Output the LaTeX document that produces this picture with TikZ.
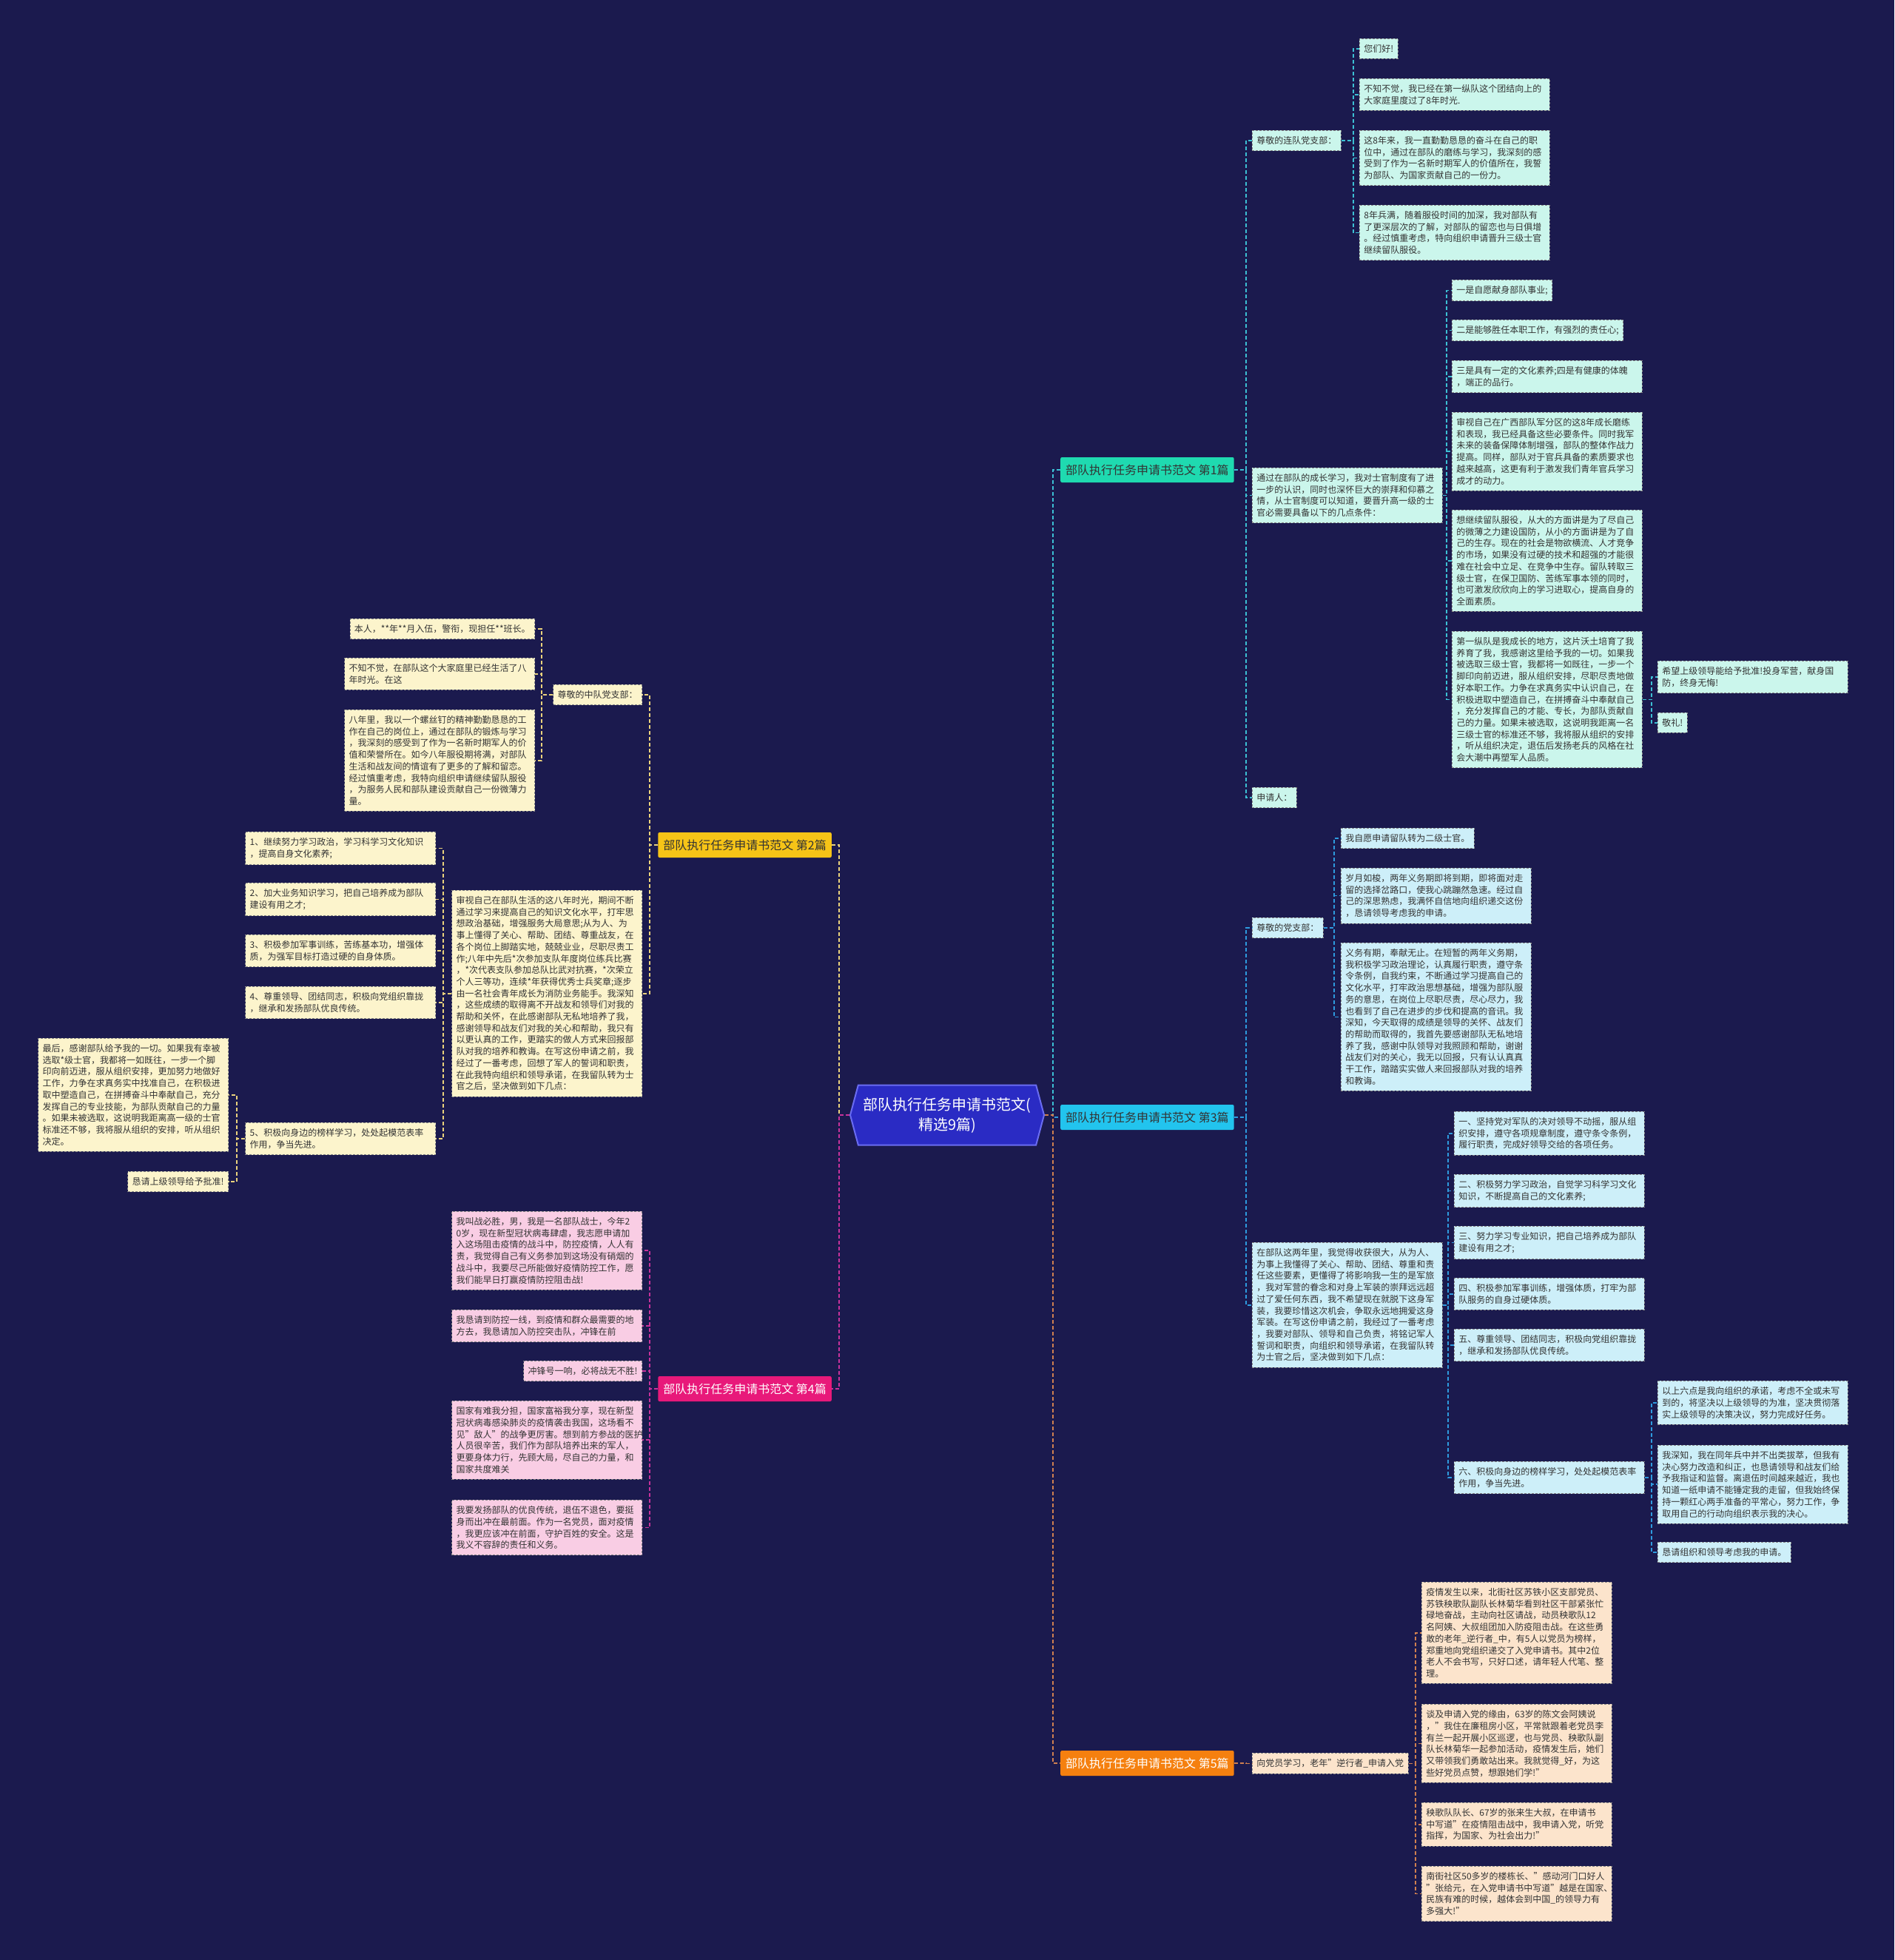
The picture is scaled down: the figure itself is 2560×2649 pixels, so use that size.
\documentclass[tikz,border=0pt]{standalone}
\usepackage{fontspec}
\setmainfont{Noto Sans CJK SC}
\usepackage{xcolor}
\usetikzlibrary{shapes.symbols,positioning,calc}
\definecolor{BG}{HTML}{1B1A4E}
\definecolor{CT}{HTML}{2A2BC4}
\definecolor{CTB}{HTML}{6A6CF2}
\definecolor{B1}{HTML}{1FDAB0}
\definecolor{B2}{HTML}{F6C417}
\definecolor{B3}{HTML}{22C4EE}
\definecolor{B4}{HTML}{E8197A}
\definecolor{B5}{HTML}{F5800F}
\definecolor{L1}{HTML}{CBF6EC}
\definecolor{L2}{HTML}{FCF4CC}
\definecolor{L3}{HTML}{CDEFF9}
\definecolor{L4}{HTML}{F9CDE4}
\definecolor{L5}{HTML}{FCE4CC}
\definecolor{K1}{HTML}{3CC0D4}
\definecolor{K2}{HTML}{EAD27C}
\definecolor{K3}{HTML}{2E9BDF}
\definecolor{K4}{HTML}{C8329C}
\definecolor{K5}{HTML}{D08050}
\definecolor{TX}{HTML}{333333}

\tikzset{
  hub/.style={signal, signal to=east and west, signal pointer angle=150,
    fill=CT, draw=CTB, line width=2pt, text=white, align=center,
    minimum width=262pt, minimum height=81pt, inner sep=4pt,
    font=\fontsize{20}{27}\selectfont},
  topic/.style={text=TX, inner xsep=7pt, inner ysep=4pt, minimum height=34pt,
    rounded corners=2pt, font=\fontsize{16}{20}\selectfont},
  leaf/.style={draw=TX!60, dash pattern=on 3pt off 2pt, line width=0.8pt,
    text=TX, inner xsep=6pt, inner ysep=8pt, align=left,
    font=\fontsize{12}{15.7}\selectfont},
  leafw/.style={leaf, text width=245pt},
  note1/.style={leaf, fill=L1}, para1/.style={leafw, fill=L1},
  note2/.style={leaf, fill=L2}, para2/.style={leafw, fill=L2},
  note3/.style={leaf, fill=L3}, para3/.style={leafw, fill=L3},
  note4/.style={leaf, fill=L4}, para4/.style={leafw, fill=L4},
  note5/.style={leaf, fill=L5}, para5/.style={leafw, fill=L5},
  conn/.style={dash pattern=on 5pt off 3pt, line width=1.6pt},
}

\begin{document}
\begin{tikzpicture}[x=1pt,y=-1pt]
  \useasboundingbox (0,0) rectangle (2560,2649);
  \fill[BG] (0,0) rectangle (2560,2649);

  % centre and topics
  \node[hub] (ctr) at (1280,1507) {部队执行任务申请书范文(\\精选9篇)};
  \node[topic, fill=B1, anchor=west] (t1) at (1433,635) {部队执行任务申请书范文 第1篇};
  \node[topic, fill=B3, anchor=west] (t3) at (1433,1510) {部队执行任务申请书范文 第3篇};
  \node[topic, fill=B5, anchor=west, text=white] (t5) at (1433,2383) {部队执行任务申请书范文 第5篇};
  \node[topic, fill=B2, anchor=east] (t2) at (1124,1142) {部队执行任务申请书范文 第2篇};
  \node[topic, fill=B4, anchor=east, text=white] (t4) at (1124,1877) {部队执行任务申请书范文 第4篇};

  \draw[conn, K1] (ctr.east) -| ([xshift=-10pt]t1.west) -- (t1.west);
  \draw[conn, K3] (ctr.east) -| ([xshift=-10pt]t3.west) -- (t3.west);
  \draw[conn, K5] (ctr.east) -| ([xshift=-10pt]t5.west) -- (t5.west);
  \draw[conn, K2] (ctr.west) -| ([xshift=10pt]t2.east) -- (t2.east);
  \draw[conn, K4] (ctr.west) -| ([xshift=10pt]t4.east) -- (t4.east);

  % --- 第1篇
  \node[note1, anchor=west] (p1a) at (1692,190) {尊敬的连队党支部：};
  \node[para1, anchor=north west] (p1b) at (1692,632) {通过在部队的成长学习，我对士官制度有了进\\一步的认识，同时也深怀巨大的崇拜和仰慕之\\情，从士官制度可以知道，要晋升高一级的士\\官必需要具备以下的几点条件：};
  \node[note1, anchor=west] (p1c) at (1692,1078) {申请人：};

  \node[note1, anchor=north west] (q1a1) at (1837,52) {您们好!};
  \node[para1, anchor=north west] (q1a2) at (1837,106) {不知不觉，我已经在第一纵队这个团结向上的\\大家庭里度过了8年时光.};
  \node[para1, anchor=north west] (q1a3) at (1837,176) {这8年来，我一直勤勤恳恳的奋斗在自己的职\\位中，通过在部队的磨练与学习，我深刻的感\\受到了作为一名新时期军人的价值所在，我誓\\为部队、为国家贡献自己的一份力。};
  \node[para1, anchor=north west] (q1a4) at (1837,277) {8年兵满，随着服役时间的加深，我对部队有\\了更深层次的了解，对部队的留恋也与日俱增\\。经过慎重考虑，特向组织申请晋升三级士官\\继续留队服役。};

  \node[note1, anchor=north west] (q1b1) at (1962,378) {一是自愿献身部队事业;};
  \node[note1, anchor=north west] (q1b2) at (1962,432) {二是能够胜任本职工作，有强烈的责任心;};
  \node[para1, anchor=north west] (q1b3) at (1962,487) {三是具有一定的文化素养;四是有健康的体魄\\，端正的品行。};
  \node[para1, anchor=north west] (q1b4) at (1962,557) {审视自己在广西部队军分区的这8年成长磨练\\和表现，我已经具备这些必要条件。同时我军\\未来的装备保障体制增强，部队的整体作战力\\提高。同样，部队对于官兵具备的素质要求也\\越来越高，这更有利于激发我们青年官兵学习\\成才的动力。};
  \node[para1, anchor=north west] (q1b5) at (1962,689) {想继续留队服役，从大的方面讲是为了尽自己\\的微薄之力建设国防，从小的方面讲是为了自\\己的生存。现在的社会是物欲横流、人才竞争\\的市场，如果没有过硬的技术和超强的才能很\\难在社会中立足、在竞争中生存。留队转取三\\级士官，在保卫国防、苦练军事本领的同时，\\也可激发欣欣向上的学习进取心，提高自身的\\全面素质。};
  \node[para1, anchor=north west] (q1b6) at (1962,853) {第一纵队是我成长的地方，这片沃土培育了我\\养育了我，我感谢这里给予我的一切。如果我\\被选取三级士官，我都将一如既往，一步一个\\脚印向前迈进，服从组织安排，尽职尽责地做\\好本职工作。力争在求真务实中认识自己，在\\积极进取中塑造自己，在拼搏奋斗中奉献自己\\，充分发挥自己的才能、专长，为部队贡献自\\己的力量。如果未被选取，这说明我距离一名\\三级士官的标准还不够，我将服从组织的安排\\，听从组织决定，退伍后发扬老兵的风格在社\\会大潮中再塑军人品质。};
  \node[para1, anchor=north west] (r1a) at (2240,893) {希望上级领导能给予批准!投身军营，献身国\\防，终身无悔!};
  \node[note1, anchor=north west] (r1b) at (2240,963) {敬礼!};

  \foreach \c in {p1a,p1b,p1c}
    \draw[conn, K1] (t1.east) -| ([xshift=-8pt]\c.west) -- (\c.west);
  \foreach \c in {q1a1,q1a2,q1a3,q1a4}
    \draw[conn, K1] (p1a.east) -| ([xshift=-8pt]\c.west) -- (\c.west);
  \foreach \c in {q1b1,q1b2,q1b3,q1b4,q1b5,q1b6}
    \draw[conn, K1] (p1b.east) -| ([xshift=-7pt]\c.west) -- (\c.west);
  \foreach \c in {r1a,r1b}
    \draw[conn, K1] (q1b6.east) -| ([xshift=-8pt]\c.west) -- (\c.west);

  % --- 第3篇
  \node[note3, anchor=north west] (p3a) at (1692,1240) {尊敬的党支部：};
  \node[para3, anchor=north west] (p3b) at (1692,1679) {在部队这两年里，我觉得收获很大，从为人、\\为事上我懂得了关心、帮助、团结、尊重和责\\任这些要素，更懂得了将影响我一生的是军旅\\，我对军营的眷念和对身上军装的崇拜远远超\\过了爱任何东西，我不希望现在就脱下这身军\\装，我要珍惜这次机会，争取永远地拥爱这身\\军装。在写这份申请之前，我经过了一番考虑\\，我要对部队、领导和自己负责，将铭记军人\\誓词和职责，向组织和领导承诺，在我留队转\\为士官之后，坚决做到如下几点：};

  \node[note3, anchor=north west] (q3a1) at (1812,1119) {我自愿申请留队转为二级士官。};
  \node[para3, anchor=north west] (q3a2) at (1812,1173) {岁月如梭，两年义务期即将到期，即将面对走\\留的选择岔路口，使我心跳蹦然急速。经过自\\己的深思熟虑，我满怀自信地向组织递交这份\\，恳请领导考虑我的申请。};
  \node[para3, anchor=north west] (q3a3) at (1812,1274) {义务有期，奉献无止。在短暂的两年义务期，\\我积极学习政治理论，认真履行职责，遵守条\\令条例，自我约束，不断通过学习提高自己的\\文化水平，打牢政治思想基础，增强为部队服\\务的意思，在岗位上尽职尽责，尽心尽力，我\\也看到了自己在进步的步伐和提高的音讯。我\\深知，今天取得的成绩是领导的关怀、战友们\\的帮助而取得的，我首先要感谢部队无私地培\\养了我，感谢中队领导对我照顾和帮助，谢谢\\战友们对的关心，我无以回报，只有认认真真\\干工作，踏踏实实做人来回报部队对我的培养\\和教诲。};

  \node[para3, anchor=north west] (q3b1) at (1965,1502) {一、坚持党对军队的决对领导不动摇，服从组\\织安排，遵守各项规章制度，遵守条令条例，\\履行职责，完成好领导交给的各项任务。};
  \node[para3, anchor=north west] (q3b2) at (1965,1587) {二、积极努力学习政治，自觉学习科学习文化\\知识，不断提高自己的文化素养;};
  \node[para3, anchor=north west] (q3b3) at (1965,1657) {三、努力学习专业知识，把自己培养成为部队\\建设有用之才;};
  \node[para3, anchor=north west] (q3b4) at (1965,1727) {四、积极参加军事训练，增强体质，打牢为部\\队服务的自身过硬体质。};
  \node[para3, anchor=north west] (q3b5) at (1965,1796) {五、尊重领导、团结同志，积极向党组织靠拢\\，继承和发扬部队优良传统。};
  \node[para3, anchor=north west] (q3b6) at (1965,1975) {六、积极向身边的榜样学习，处处起模范表率\\作用，争当先进。};
  \node[para3, anchor=north west] (r3a) at (2240,1866) {以上六点是我向组织的承诺，考虑不全或未写\\到的，将坚决以上级领导的为准，坚决贯彻落\\实上级领导的决策决议，努力完成好任务。};
  \node[para3, anchor=north west] (r3b) at (2240,1953) {我深知，我在同年兵中并不出类拔萃，但我有\\决心努力改造和纠正，也恳请领导和战友们给\\予我指证和监督。离退伍时间越来越近，我也\\知道一纸申请不能锤定我的走留，但我始终保\\持一颗红心两手准备的平常心，努力工作，争\\取用自己的行动向组织表示我的决心。};
  \node[note3, anchor=north west] (r3c) at (2240,2084) {恳请组织和领导考虑我的申请。};

  \foreach \c in {p3a,p3b}
    \draw[conn, K3] (t3.east) -| ([xshift=-8pt]\c.west) -- (\c.west);
  \foreach \c in {q3a1,q3a2,q3a3}
    \draw[conn, K3] (p3a.east) -| ([xshift=-9pt]\c.west) -- (\c.west);
  \foreach \c in {q3b1,q3b2,q3b3,q3b4,q3b5,q3b6}
    \draw[conn, K3] (p3b.east) -| ([xshift=-8pt]\c.west) -- (\c.west);
  \foreach \c in {r3a,r3b,r3c}
    \draw[conn, K3] (q3b6.east) -| ([xshift=-8pt]\c.west) -- (\c.west);

  % --- 第5篇
  \node[note5, anchor=north west] (p5a) at (1692,2369) {向党员学习，老年"逆行者\_申请入党};
  \node[para5, anchor=north west] (q5a1) at (1921,2138) {疫情发生以来，北街社区苏铁小区支部党员、\\苏铁秧歌队副队长林菊华看到社区干部紧张忙\\碌地奋战，主动向社区请战，动员秧歌队12\\名阿姨、大叔组团加入防疫阻击战。在这些勇\\敢的老年\_逆行者\_中，有5人以党员为榜样，\\郑重地向党组织递交了入党申请书。其中2位\\老人不会书写，只好口述，请年轻人代笔、整\\理。};
  \node[para5, anchor=north west] (q5a2) at (1921,2303) {谈及申请入党的缘由，63岁的陈文会阿姨说\\，"我住在廉租房小区，平常就跟着老党员李\\有兰一起开展小区巡逻，也与党员、秧歌队副\\队长林菊华一起参加活动，疫情发生后，她们\\又带领我们勇敢站出来。我就觉得\_好，为这\\些好党员点赞，想跟她们学!"};
  \node[para5, anchor=north west] (q5a3) at (1921,2436) {秧歌队队长、67岁的张来生大叔，在申请书\\中写道"在疫情阻击战中，我申请入党，听党\\指挥，为国家、为社会出力!"};
  \node[para5, anchor=north west] (q5a4) at (1921,2522) {南街社区50多岁的楼栋长、"感动河门口好人\\"张给元，在入党申请书中写道"越是在国家、\\民族有难的时候，越体会到中国\_的领导力有\\多强大!"};

  \draw[conn, K5] (t5.east) -| ([xshift=-8pt]p5a.west) -- (p5a.west);
  \foreach \c in {q5a1,q5a2,q5a3,q5a4}
    \draw[conn, K5] (p5a.east) -| ([xshift=-8pt]\c.west) -- (\c.west);

  % --- 第2篇
  \node[note2, anchor=north east] (p2a) at (868,925) {尊敬的中队党支部：};
  \node[para2, anchor=north east] (p2b) at (868,1203) {审视自己在部队生活的这八年时光，期间不断\\通过学习来提高自己的知识文化水平，打牢思\\想政治基础，增强服务大局意思;从为人、为\\事上懂得了关心、帮助、团结、尊重战友，在\\各个岗位上脚踏实地，兢兢业业，尽职尽责工\\作;八年中先后*次参加支队年度岗位练兵比赛\\，*次代表支队参加总队比武对抗赛，*次荣立\\个人三等功，连续*年获得优秀士兵奖章;逐步\\由一名社会青年成长为消防业务能手。我深知\\，这些成绩的取得离不开战友和领导们对我的\\帮助和关怀，在此感谢部队无私地培养了我，\\感谢领导和战友们对我的关心和帮助，我只有\\以更认真的工作，更踏实的做人方式来回报部\\队对我的培养和教诲。在写这份申请之前，我\\经过了一番考虑，回想了军人的誓词和职责，\\在此我特向组织和领导承诺，在我留队转为士\\官之后，坚决做到如下几点：};

  \node[note2, anchor=north east] (q2a1) at (723,836) {本人，**年**月入伍，警衔，现担任**班长。};
  \node[para2, anchor=north east] (q2a2) at (723,889) {不知不觉，在部队这个大家庭里已经生活了八\\年时光。在这};
  \node[para2, anchor=north east] (q2a3) at (723,959) {八年里，我以一个螺丝钉的精神勤勤恳恳的工\\作在自己的岗位上，通过在部队的锻炼与学习\\，我深刻的感受到了作为一名新时期军人的价\\值和荣誉所在。如今八年服役期将满，对部队\\生活和战友间的情谊有了更多的了解和留恋。\\经过慎重考虑，我特向组织申请继续留队服役\\，为服务人民和部队建设贡献自己一份微薄力\\量。};

  \node[para2, anchor=north east] (q2b1) at (589,1124) {1、继续努力学习政治，学习科学习文化知识\\，提高自身文化素养;};
  \node[para2, anchor=north east] (q2b2) at (589,1193) {2、加大业务知识学习，把自己培养成为部队\\建设有用之才;};
  \node[para2, anchor=north east] (q2b3) at (589,1263) {3、积极参加军事训练，苦练基本功，增强体\\质，为强军目标打造过硬的自身体质。};
  \node[para2, anchor=north east] (q2b4) at (589,1333) {4、尊重领导、团结同志，积极向党组织靠拢\\，继承和发扬部队优良传统。};
  \node[para2, anchor=north east] (q2b5) at (589,1517) {5、积极向身边的榜样学习，处处起模范表率\\作用，争当先进。};
  \node[para2, anchor=north east] (r2a) at (309,1403) {最后，感谢部队给予我的一切。如果我有幸被\\选取*级士官，我都将一如既往，一步一个脚\\印向前迈进，服从组织安排，更加努力地做好\\工作，力争在求真务实中找准自己，在积极进\\取中塑造自己，在拼搏奋斗中奉献自己，充分\\发挥自己的专业技能，为部队贡献自己的力量\\。如果未被选取，这说明我距离高一级的士官\\标准还不够，我将服从组织的安排，听从组织\\决定。};
  \node[note2, anchor=north east] (r2b) at (309,1583) {恳请上级领导给予批准!};

  \foreach \c in {p2a,p2b}
    \draw[conn, K2] (t2.west) -| ([xshift=10pt]\c.east) -- (\c.east);
  \foreach \c in {q2a1,q2a2,q2a3}
    \draw[conn, K2] (p2a.west) -| ([xshift=9pt]\c.east) -- (\c.east);
  \foreach \c in {q2b1,q2b2,q2b3,q2b4,q2b5}
    \draw[conn, K2] (p2b.west) -| ([xshift=10pt]\c.east) -- (\c.east);
  \foreach \c in {r2a,r2b}
    \draw[conn, K2] (q2b5.west) -| ([xshift=11pt]\c.east) -- (\c.east);

  % --- 第4篇
  \node[para4, anchor=north east] (p4a) at (868,1637) {我叫战必胜，男，我是一名部队战士，今年2\\0岁，现在新型冠状病毒肆虐，我志愿申请加\\入这场阻击疫情的战斗中，防控疫情，人人有\\责，我觉得自己有义务参加到这场没有硝烟的\\战斗中，我要尽己所能做好疫情防控工作，愿\\我们能早日打赢疫情防控阻击战!};
  \node[para4, anchor=north east] (p4b) at (868,1770) {我恳请到防控一线，到疫情和群众最需要的地\\方去，我恳请加入防控突击队，冲锋在前};
  \node[note4, anchor=north east] (p4c) at (868,1839) {冲锋号一响，必将战无不胜!};
  \node[para4, anchor=north east] (p4d) at (868,1893) {国家有难我分担，国家富裕我分享，现在新型\\冠状病毒感染肺炎的疫情袭击我国，这场看不\\见"敌人"的战争更厉害。想到前方参战的医护\\人员很辛苦，我们作为部队培养出来的军人，\\更要身体力行，先顾大局，尽自己的力量，和\\国家共度难关};
  \node[para4, anchor=north east] (p4e) at (868,2027) {我要发扬部队的优良传统，退伍不退色，要挺\\身而出冲在最前面。作为一名党员，面对疫情\\，我更应该冲在前面，守护百姓的安全。这是\\我义不容辞的责任和义务。};

  \foreach \c in {p4a,p4b,p4c,p4d,p4e}
    \draw[conn, K4] (t4.west) -| ([xshift=10pt]\c.east) -- (\c.east);
\end{tikzpicture}
\end{document}
